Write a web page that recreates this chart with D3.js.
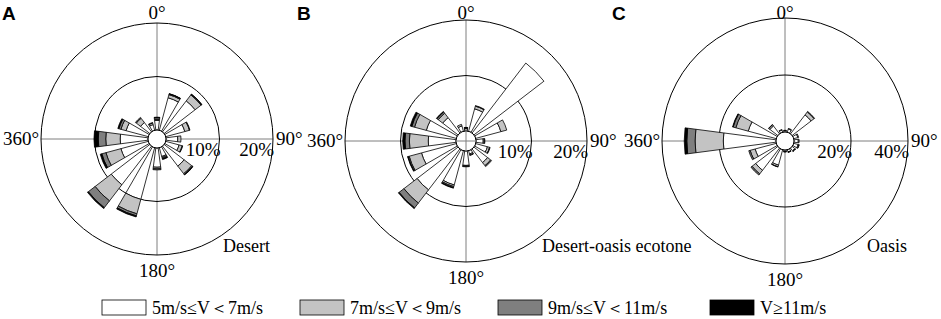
<!DOCTYPE html>
<html>
<head>
<meta charset="utf-8">
<script src="https://cdn.jsdelivr.net/npm/d3@7"></script>
<style>
  body { margin: 0; background: #fff; }
  svg { display: block; }
</style>
</head>
<body>
<div id="chart"></div>
<script>
// wind directions (deg, clockwise from north)
const directions = [0, 22.5, 45, 67.5, 90, 112.5, 135, 157.5, 180, 202.5, 225, 247.5, 270, 292.5, 315, 337.5];

const speedClasses = ['5m/s≤V＜7m/s', '7m/s≤V＜9m/s', '9m/s≤V＜11m/s', 'V≥11m/s'];
const speedKeys = ['v5', 'v7', 'v9', 'v11'];
const angleLabels = ['0°', '90°', '180°', '360°'];

// frequency (%) per speed class, A - Desert
const desertV5  = [1.8, 6.3, 7.3, 3.7, 2.2, 2.6, 4.7, 1.7, 3.6, 10.0, 9.1, 5.3, 5.2, 4.3, 2.2, 1.1];
const desertV7  = [0.2, 0.6, 1.4, 0.9, 0.6, 0.6, 1.8, 0.2, 0.3, 2.8, 3.8, 2.9, 2.7, 1.0, 1.0, 0.3];
const desertV9  = [0.3, 0.15, 0.15, 0.1, 0, 0.1, 0.2, 0.2, 0.2, 0.4, 1.6, 0.8, 1.4, 0.4, 0.2, 0.1];
const desertV11 = [0.1, 0.05, 0.05, 0, 0, 0, 0.1, 0.2, 0, 0.2, 0.2, 0.3, 0.8, 0.2, 0, 0];

// B - Desert-oasis ecotone
const ecotoneV5  = [0.4, 4.2, 15.9, 4.7, 1.3, 2.2, 3.1, 0.6, 2.6, 6.4, 9.3, 6.5, 5.0, 5.6, 3.5, 1.0];
const ecotoneV7  = [0.1, 0.5, 0, 1.1, 0.2, 0.4, 0.7, 0.2, 0.15, 0.3, 3.0, 2.3, 3.4, 2.2, 1.0, 0.3];
const ecotoneV9  = [0.1, 0.1, 0, 0, 0.1, 0.1, 0.2, 0.1, 0.1, 0.2, 1.1, 0.2, 0.8, 0.5, 0.3, 0];
const ecotoneV11 = [0.05, 0, 0, 0, 0, 0, 0, 0, 0, 0.1, 0.15, 0.1, 0.4, 0.3, 0.1, 0];

// C - Oasis
const oasisV5  = [0.5, 1.2, 8.4, 1.5, 1.5, 1.6, 1.2, 0.8, 0.5, 5.6, 9.8, 7.7, 18.5, 10.2, 3.5, 0.8];
const oasisV7  = [0.1, 0.2, 1.3, 0.3, 0.3, 0.3, 0.2, 0.1, 0.1, 0.6, 1.6, 1.8, 9.9, 4.5, 0.5, 0.2];
const oasisV9  = [0, 0, 0.2, 0, 0, 0.1, 0.1, 0.1, 0.1, 0.1, 0.5, 0.5, 2.9, 1.0, 0.1, 0];
const oasisV11 = [0, 0, 0, 0, 0, 0, 0, 0, 0, 0, 0, 0, 0.9, 0.2, 0, 0];

const ringTicksAB = [10, 20];
const ringTicksC = [20, 40];

const colors = ['#ffffff', '#c3c3c3', '#7f7f7f', '#000000'];
const serif = '"Liberation Serif", "Times New Roman", serif';

const width = 941, height = 319;
const svg = d3.select('#chart').append('svg')
    .attr('width', width)
    .attr('height', height);

const panels = [
    { letter: 'A', letterX: 2, name: 'Desert', nameX: 270, nameAnchor: 'end',
      cx: 157, cy: 139, R: 116, hole: 9, ticks: ringTicksAB,
      series: [desertV5, desertV7, desertV9, desertV11], crossInHole: false },
    { letter: 'B', letterX: 297, name: 'Desert-oasis ecotone', nameX: 542, nameAnchor: 'start',
      cx: 466, cy: 141, R: 121, hole: 10, ticks: ringTicksAB,
      series: [ecotoneV5, ecotoneV7, ecotoneV9, ecotoneV11], crossInHole: true },
    { letter: 'C', letterX: 612, name: 'Oasis', nameX: 907, nameAnchor: 'end',
      cx: 785, cy: 141, R: 123, hole: 9, ticks: ringTicksC,
      series: [oasisV5, oasisV7, oasisV9, oasisV11], crossInHole: false }
];

const rad = d => d * Math.PI / 180;
const halfWidth = 7.5; // wedge half width in degrees

function drawRose(p) {
    const g = svg.append('g').attr('transform', `translate(${p.cx}, ${p.cy})`);

    const r = d3.scaleLinear()
        .domain([0, d3.max(p.ticks)])
        .range([p.hole, p.R]);

    const rows = directions.map((dir, i) => {
        const row = { dir };
        speedKeys.forEach((k, j) => row[k] = p.series[j][i]);
        return row;
    });
    const stacked = d3.stack().keys(speedKeys)(rows);

    // cross hair
    g.append('line').attr('x1', -p.R).attr('x2', p.R).attr('y1', 0).attr('y2', 0)
        .attr('stroke', '#7f7f7f').attr('stroke-width', 1);
    g.append('line').attr('y1', -p.R).attr('y2', p.R).attr('x1', 0).attr('x2', 0)
        .attr('stroke', '#7f7f7f').attr('stroke-width', 1);

    // rings
    g.selectAll('circle.ring')
        .data(p.ticks)
        .enter().append('circle')
        .attr('class', 'ring')
        .attr('r', d => r(d))
        .attr('fill', 'none')
        .attr('stroke', '#000')
        .attr('stroke-width', 1);

    const arc = d3.arc()
        .innerRadius(d => r(d[0]))
        .outerRadius(d => r(d[1]))
        .startAngle(d => rad(d.data.dir - halfWidth))
        .endAngle(d => rad(d.data.dir + halfWidth));

    stacked.forEach((layer, j) => {
        g.append('g')
            .selectAll('path')
            .data(layer.filter(d => d[1] - d[0] > 0))
            .enter().append('path')
            .attr('d', arc)
            .attr('fill', colors[j])
            .attr('stroke', '#000')
            .attr('stroke-width', 0.8);
    });

    // center hole
    g.append('circle')
        .attr('r', p.hole)
        .attr('fill', '#fff')
        .attr('stroke', '#000')
        .attr('stroke-width', 1);
    if (p.crossInHole) {
        g.append('line').attr('x1', -p.hole).attr('x2', p.hole).attr('stroke', '#7f7f7f');
        g.append('line').attr('y1', -p.hole).attr('y2', p.hole).attr('stroke', '#7f7f7f');
    }

    // ring labels
    g.selectAll('text.tick')
        .data(p.ticks)
        .enter().append('text')
        .attr('class', 'tick')
        .attr('x', d => r(d) + 1)
        .attr('y', 17)
        .attr('text-anchor', 'end')
        .style('font-family', serif)
        .style('font-size', '19px')
        .text(d => d + '%');

    // direction labels
    const pos = [
        { x: 0, y: Math.max(-p.R - 4, 19 - p.cy), anchor: 'middle' },
        { x: p.R + 3, y: 6, anchor: 'start' },
        { x: 0, y: p.R + 22, anchor: 'middle' },
        { x: -p.R - 2, y: 6, anchor: 'end' }
    ];
    g.selectAll('text.dir')
        .data(angleLabels)
        .enter().append('text')
        .attr('class', 'dir')
        .attr('x', (d, i) => pos[i].x)
        .attr('y', (d, i) => pos[i].y)
        .attr('text-anchor', (d, i) => pos[i].anchor)
        .style('font-family', serif)
        .style('font-size', '19px')
        .text(d => d);

    // site name
    svg.append('text')
        .attr('x', p.nameX)
        .attr('y', 252)
        .attr('text-anchor', p.nameAnchor)
        .style('font-family', serif)
        .style('font-size', '18px')
        .text(p.name);

    // panel letter
    svg.append('text')
        .attr('x', p.letterX)
        .attr('y', 20)
        .style('font-family', '"Liberation Sans", Arial, sans-serif')
        .style('font-weight', 'bold')
        .style('font-size', '19px')
        .text(p.letter);
}

panels.forEach(drawRose);

// legend
const legendX = [102, 300, 498, 710];
const items = svg.append('g')
    .selectAll('g')
    .data(speedClasses)
    .enter().append('g')
    .attr('transform', (d, i) => `translate(${legendX[i]}, 300)`);

items.append('rect')
    .attr('width', 44)
    .attr('height', 15)
    .attr('fill', (d, i) => colors[i])
    .attr('stroke', '#000')
    .attr('stroke-width', 0.8);

items.append('text')
    .attr('x', 50)
    .attr('y', 14)
    .style('font-family', serif)
    .style('font-size', '18px')
    .text(d => d);
</script>
</body>
</html>
